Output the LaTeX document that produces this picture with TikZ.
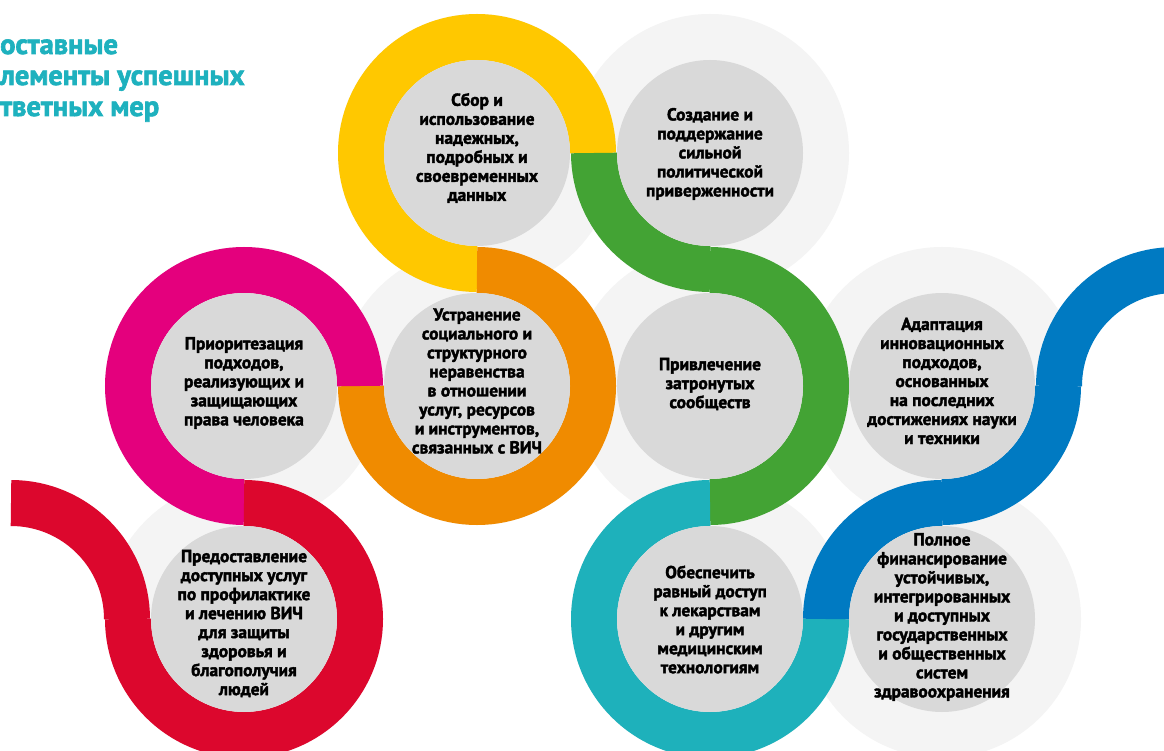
\documentclass[tikz,border=0pt]{standalone}
\usepackage{fontspec}
\setmainfont{PT Sans}[BoldFeatures={FakeBold=2.2}]
\definecolor{yellowc}{HTML}{FFC800}
\definecolor{greenc}{HTML}{43A334}
\definecolor{orangec}{HTML}{F08B00}
\definecolor{magentac}{HTML}{E4007D}
\definecolor{redc}{HTML}{DC072D}
\definecolor{cyanc}{HTML}{1EB1BB}
\definecolor{bluec}{HTML}{007AC2}
\definecolor{coregray}{HTML}{D9D9D9}
\definecolor{bggray}{HTML}{F4F4F4}
\definecolor{titleteal}{HTML}{1EB1BE}
\begin{document}
\begin{tikzpicture}[x=1pt,y=1pt,
  bgc/.style={circle,fill=bggray,minimum size=278pt,inner sep=0},
  core/.style={circle,fill=coregray,minimum size=186pt,inner sep=0},
  ring/.style={line width=46pt},
  lbl/.style={align=center,inner sep=0,text=black,font=\fontsize{17.4}{19}\selectfont\bfseries},
  ttl/.style={anchor=base west,inner sep=0,text=titleteal,font=\fontsize{28.5}{31}\selectfont\bfseries}]
\useasboundingbox (0,0) rectangle (1164,-751);
\clip (0,0) rectangle (1164,-751);
\fill[white] (0,0) rectangle (1164,-751);
% centres
\coordinate (A) at (477,-153);
\coordinate (B) at (710,-153);
\coordinate (C) at (244,-386);
\coordinate (D) at (477,-386);
\coordinate (E) at (710,-386);
\coordinate (F) at (942,-386);
\coordinate (G) at (244,-619);
\coordinate (H) at (710,-619);
\coordinate (I) at (942,-619);
\coordinate (L) at (11,-619);
\coordinate (R) at (1175,-386);
% background discs
\foreach \c in {A,B,C,D,E,F,G,H,I}{\node[bgc] (bg\c) at (\c) {};}
% rings
\draw[ring,yellowc] (A) ++(0:116) arc[start angle=0,end angle=270,radius=116];
\draw[ring,greenc] (B) ++(180:116) arc[start angle=180,end angle=270,radius=116];
\draw[ring,greenc] (E) ++(90:116) arc[start angle=90,end angle=-90,radius=116];
\draw[ring,orangec] (D) ++(90:116) arc[start angle=90,end angle=-180,radius=116];
\draw[ring,magentac] (C) ++(0:116) arc[start angle=0,end angle=270,radius=116];
\draw[ring,redc] (G) ++(90:116) arc[start angle=90,end angle=-180,radius=116];
\draw[ring,redc] (L) ++(90:116) arc[start angle=90,end angle=0,radius=116];
\draw[ring,cyanc] (H) ++(90:116) arc[start angle=90,end angle=360,radius=116];
\draw[ring,bluec] (I) ++(180:116) arc[start angle=180,end angle=90,radius=116];
\draw[ring,bluec] (F) ++(270:116) arc[start angle=270,end angle=360,radius=116];
\draw[ring,bluec] (R) ++(180:116) arc[start angle=180,end angle=90,radius=116];
% core discs
\foreach \c in {A,B,C,D,E,F,G,H,I}{\node[core] (core\c) at (\c) {};}
% labels
\node[lbl] (tA) at (477,-148) {Сбор и\\использование\\надежных,\\подробных и\\своевременных\\данных};
\node[lbl] (tB) at (710,-154) {Создание и\\поддержание\\сильной\\политической\\приверженности};
\node[lbl] (tC) at (244,-383) {Приоритезация\\подходов,\\реализующих и\\защищающих\\права человека};
\node[lbl] (tD) at (477,-381) {Устранение\\социального и\\структурного\\неравенства\\в отношении\\услуг, ресурсов\\и инструментов,\\связанных с ВИЧ};
\node[lbl] (tE) at (710,-384) {Привлечение\\затронутых\\сообществ};
\node[lbl] (tF) at (942,-381) {Адаптация\\инновационных\\подходов,\\основанных\\на последних\\достижениях науки\\и техники};
\node[lbl] (tG) at (244,-623.5) {Предоставление\\доступных услуг\\по профилактике\\и лечению ВИЧ\\для защиты\\здоровья и\\благополучия\\людей};
\node[lbl] (tH) at (710,-619.5) {Обеспечить\\равный доступ\\к лекарствам\\и другим\\медицинским\\технологиям};
\node[lbl] (tI) at (942,-617) {Полное\\финансирование\\устойчивых,\\интегрированных\\и доступных\\государственных\\и общественных\\систем\\здравоохранения};
% title
\node[ttl] (title1) at (0,-54) {оставные};
\node[ttl] (title2) at (0,-85) {лементы успешных};
\node[ttl] (title3) at (0,-116) {тветных мер};
\end{tikzpicture}
\end{document}
